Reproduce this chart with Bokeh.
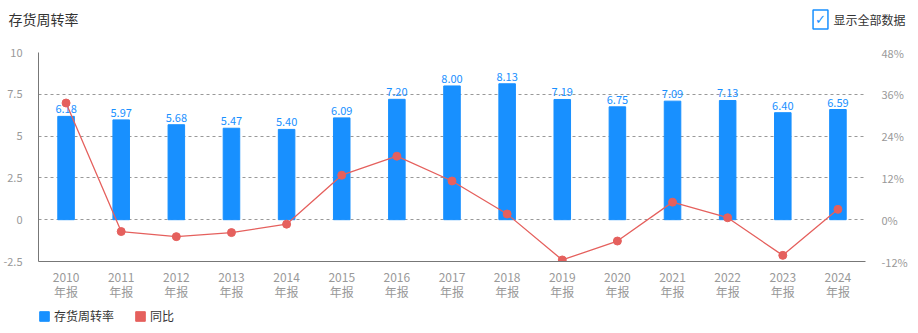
from bokeh.plotting import figure
from bokeh.layouts import column
from bokeh.models import (ColumnDataSource, Range1d, LinearAxis, FixedTicker, Label,
                          Legend, LegendItem, PrintfTickFormatter)
from bokeh.core.properties import value
from bokeh.embed import file_html
from bokeh.resources import INLINE

years = ["2010", "2011", "2012", "2013", "2014", "2015", "2016", "2017",
         "2018", "2019", "2020", "2021", "2022", "2023", "2024"]
turnover = [6.18, 5.97, 5.68, 5.47, 5.40, 6.09, 7.20, 8.00, 8.13, 7.19,
            6.75, 7.09, 7.13, 6.40, 6.59]
yoy = [33.5, -3.40, -4.86, -3.70, -1.28, 12.78, 18.23, 11.11, 1.63, -11.56,
       -6.12, 5.04, 0.56, -10.24, 2.97]
left_ticks = [-2.5, 0, 2.5, 5, 7.5, 10]
left_tick_labels = ["-2.5", "0", "2.5", "5", "7.5", "10"]
right_ticks = [-12, 0, 12, 24, 36, 48]

FONT = "Noto Sans CJK SC"
BLUE = "#1890ff"
RED = "#e5605d"

W = 918

# ---------- header: title + checkbox ----------
head = figure(width=W, height=44, output_backend="svg", toolbar_location=None, tools="",
              x_range=Range1d(0, W), y_range=Range1d(0, 44), x_axis_type=None,
              y_axis_type=None, min_border=0, outline_line_color=None)
head.frame_align = False
head.grid.visible = False
head.add_layout(Label(x=8, y=26, x_units="screen", y_units="screen", text="存货周转率",
                      text_font=FONT, text_font_size="14px", text_color="#333333",
                      text_baseline="middle"))
head.add_layout(Label(x=820, y=25, x_units="screen", y_units="screen", text="✓",
                      text_font="DejaVu Sans", text_font_size="13px", text_color=BLUE,
                      text_align="center", text_baseline="middle",
                      border_line_color=BLUE, border_line_width=1.5, padding=2))
head.add_layout(Label(x=833, y=25, x_units="screen", y_units="screen", text="显示全部数据",
                      text_font=FONT, text_font_size="12px", text_color="#333333",
                      text_baseline="middle"))

# ---------- main chart ----------
xs = list(range(len(years)))
src = ColumnDataSource(dict(x=xs, v=turnover, lab=["%.2f" % t for t in turnover], yoy=yoy))

p = figure(width=W, height=258, output_backend="svg", toolbar_location=None,
           x_range=Range1d(-0.5, len(years) - 0.5), y_range=Range1d(-2.5, 10),
           min_border_left=37, min_border_right=53, min_border_top=8,
           min_border_bottom=40, outline_line_color=None, tools="")
p.extra_y_ranges = {"pct": Range1d(-12, 48)}

p.vbar(x="x", top="v", width=0.3, color=BLUE, source=src)
p.text(x="x", y="v", text="lab", source=src, y_offset=-3, text_align="center",
       text_baseline="bottom", text_color=BLUE, text_font_size="11px",
       text_font=value(FONT))
p.line(x="x", y="yoy", source=src, y_range_name="pct", line_color=RED, line_width=1.3)
p.scatter(x="x", y="yoy", source=src, y_range_name="pct", size=8, color=RED)

p.yaxis.ticker = FixedTicker(ticks=left_ticks)
p.yaxis.major_label_overrides = {t: l for t, l in zip(left_ticks, left_tick_labels)}
p.xaxis.ticker = FixedTicker(ticks=xs)
p.xaxis.major_label_overrides = {i: y + "\n年报" for i, y in zip(xs, years)}
ra = LinearAxis(y_range_name="pct", ticker=FixedTicker(ticks=right_ticks),
                formatter=PrintfTickFormatter(format="%d%%"))
p.add_layout(ra, "right")
for ax in (p.xaxis[0], p.yaxis[0], ra):
    ax.major_tick_line_color = None
    ax.minor_tick_line_color = None
    ax.major_label_text_color = "#999999"
    ax.major_label_text_font = FONT
    ax.major_label_text_font_size = "11px"
    ax.axis_line_color = "#777777"
ra.axis_line_color = None
p.xaxis.major_label_text_font_size = "12px"
p.xaxis.major_label_text_line_height = 0.9
p.xaxis.major_label_standoff = 0
p.yaxis.major_label_standoff = 10
ra.major_label_standoff = 10

p.xgrid.grid_line_color = None
p.ygrid.ticker = FixedTicker(ticks=left_ticks)
p.ygrid.grid_line_color = "#999999"
p.ygrid.grid_line_dash = "3 3"
p.ygrid.grid_line_width = 1

# ---------- footer: legend ----------
foot = figure(width=W, height=31, output_backend="svg", toolbar_location=None, tools="",
              x_range=Range1d(0, 1), y_range=Range1d(0, 1), x_axis_type=None,
              y_axis_type=None, min_border=0, outline_line_color=None)
foot.frame_align = False
foot.grid.visible = False
# swatch-only renderers, kept outside the visible range
d1 = foot.vbar(x=[5], top=[1], width=0.3, color=BLUE)
d2 = foot.vbar(x=[5], top=[1], width=0.3, color=RED)
leg = Legend(items=[LegendItem(label="存货周转率", renderers=[d1]),
                    LegendItem(label="同比", renderers=[d2])],
             orientation="horizontal", margin=0, padding=0,
             glyph_width=12, glyph_height=12, spacing=20, label_standoff=4,
             label_text_font=FONT, label_text_font_size="12px", label_text_color="#333333",
             border_line_color=None, background_fill_alpha=0)
leg.location = (38, 9)
foot.add_layout(leg, "center")

layout = column(head, p, foot, spacing=0)
open("out.html", "w").write(file_html(layout, INLINE))
